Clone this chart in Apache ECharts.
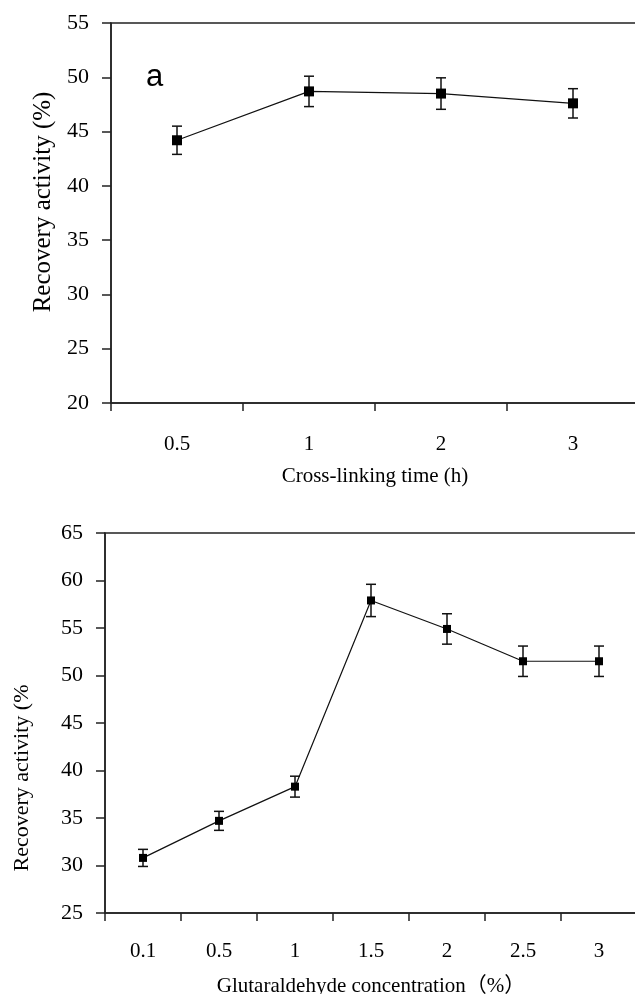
<!DOCTYPE html>
<html>
<head>
<meta charset="utf-8">
<script src="https://cdn.jsdelivr.net/npm/echarts@6/dist/echarts.min.js"></script>
<style>
html,body{margin:0;padding:0;background:#fff;}
#chart{width:635px;height:994px;}
</style>
</head>
<body>
<div id="chart"></div>
<script>
// Panel a: cross-linking time
const timeCategories = ['0.5', '1', '2', '3'];
const timeValues = [44.2, 48.7, 48.5, 47.6];
const timeErrors = [1.3, 1.4, 1.45, 1.35];

// Panel b: glutaraldehyde concentration
const concCategories = ['0.1', '0.5', '1', '1.5', '2', '2.5', '3'];
const concValues = [30.8, 34.7, 38.3, 57.9, 54.9, 51.5, 51.5];
const concErrors = [0.9, 1.0, 1.1, 1.7, 1.6, 1.6, 1.6];

const serif = '"Liberation Serif", "Times New Roman", "Noto Sans CJK SC", serif';
const axisColor = '#222';

function errorData(vals, errs) {
  return vals.map((v, i) => [i, v - errs[i], v + errs[i]]);
}

function errorRender(capHalf) {
  return function (params, api) {
    const lo = api.coord([api.value(0), api.value(1)]);
    const hi = api.coord([api.value(0), api.value(2)]);
    const st = { stroke: '#111', lineWidth: 1.5 };
    return {
      type: 'group',
      children: [
        { type: 'line', shape: { x1: lo[0], y1: lo[1], x2: hi[0], y2: hi[1] }, style: st },
        { type: 'line', shape: { x1: lo[0] - capHalf, y1: lo[1], x2: lo[0] + capHalf, y2: lo[1] }, style: st },
        { type: 'line', shape: { x1: hi[0] - capHalf, y1: hi[1], x2: hi[0] + capHalf, y2: hi[1] }, style: st }
      ]
    };
  };
}

function xAxisCfg(gridIndex, cats, name, labelMargin, nameGap) {
  return {
    type: 'category', gridIndex: gridIndex, data: cats,
    boundaryGap: true,
    name: name, nameLocation: 'middle', nameGap: nameGap,
    nameTextStyle: { fontFamily: serif, fontSize: 21, color: '#000' },
    axisLine: { lineStyle: { color: axisColor, width: 1.5 } },
    axisTick: { show: true, inside: false, length: 8, lineStyle: { color: axisColor, width: 1.5 } },
    axisLabel: { fontFamily: serif, fontSize: 21, color: '#000', margin: labelMargin },
    splitLine: { show: false }
  };
}

function yAxisCfg(gridIndex, min, max, name, nameGap, namePadding, nameSize) {
  return {
    type: 'value', gridIndex: gridIndex, min: min, max: max, interval: 5,
    name: name, nameLocation: 'middle', nameGap: nameGap, nameRotate: 90,
    nameTextStyle: { fontFamily: serif, fontSize: nameSize, color: '#000', padding: namePadding },
    axisLine: { show: true, lineStyle: { color: axisColor, width: 1.5 } },
    axisTick: { show: true, inside: false, length: 9, lineStyle: { color: axisColor, width: 1.5 } },
    axisLabel: { fontFamily: serif, fontSize: 22, color: '#000', margin: 22 },
    splitLine: { show: false }
  };
}

const chart = echarts.init(document.getElementById('chart'), null, { renderer: 'canvas' });
chart.setOption({
  animation: false,
  backgroundColor: '#fff',
  grid: [
    { left: 111, top: 23, height: 380, right: -4, containLabel: false, outerBoundsMode: 'none', show: true, borderColor: axisColor, borderWidth: 1.5 },
    { left: 105, top: 533, height: 380, right: -2, containLabel: false, outerBoundsMode: 'none', show: true, borderColor: axisColor, borderWidth: 1.5 }
  ],
  xAxis: [
    xAxisCfg(0, timeCategories, 'Cross-linking time (h)', 31, 63),
    xAxisCfg(1, concCategories, 'Glutaraldehyde concentration（%）', 28, 63)
  ],
  yAxis: [
    yAxisCfg(0, 20, 55, 'Recovery activity (%)', 55, [0, 0, 0, 22], 25),
    yAxisCfg(1, 25, 65, 'Recovery activity (%', 72, [0, 110, 0, 0], 22)
  ],
  graphic: [
    { type: 'text', left: 146, top: 62, style: { text: 'a', font: '31px "Liberation Sans", Arial, sans-serif', fill: '#000' } }
  ],
  series: [
    {
      type: 'line', xAxisIndex: 0, yAxisIndex: 0, data: timeValues,
      symbol: 'rect', symbolSize: 10,
      itemStyle: { color: '#000' }, lineStyle: { color: '#111', width: 1.2 }
    },
    {
      type: 'custom', xAxisIndex: 0, yAxisIndex: 0, data: errorData(timeValues, timeErrors),
      renderItem: errorRender(5), z: 3
    },
    {
      type: 'line', xAxisIndex: 1, yAxisIndex: 1, data: concValues,
      symbol: 'rect', symbolSize: 8,
      itemStyle: { color: '#000' }, lineStyle: { color: '#111', width: 1.2 }
    },
    {
      type: 'custom', xAxisIndex: 1, yAxisIndex: 1, data: errorData(concValues, concErrors),
      renderItem: errorRender(5), z: 3
    }
  ]
});
</script>
</body>
</html>
